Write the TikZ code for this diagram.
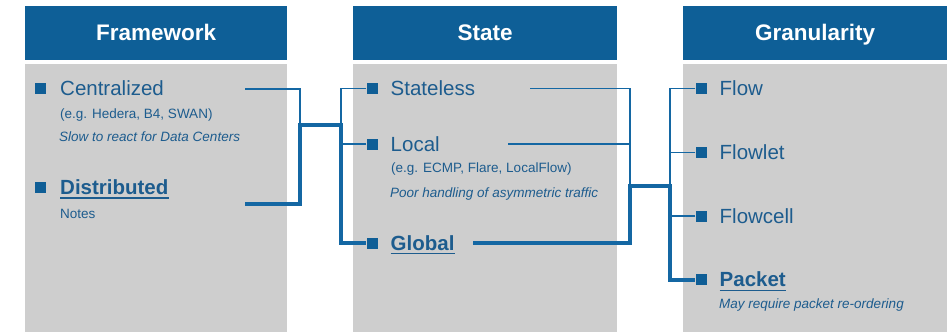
\documentclass[tikz,border=0pt]{standalone}
\usepackage{fontspec}
\setmainfont{Liberation Sans}
\definecolor{hdrblue}{HTML}{0E5F97}
\definecolor{panelgrey}{HTML}{CECECE}
\definecolor{txtblue}{HTML}{1D5C8E}
\definecolor{linkblue}{HTML}{1467A3}
\definecolor{dotblue}{HTML}{0F5E96}
\tikzset{
  hdr/.style={fill=hdrblue, text=white, font=\bfseries\fontsize{22.5}{27}\selectfont,
    minimum width=262pt, minimum height=53.5pt, inner sep=0pt, anchor=north west,
    text height=16pt, text depth=0pt},
  bul/.style={rectangle, fill=dotblue, minimum size=11pt, inner sep=0pt},
  item/.style={anchor=base west, inner sep=0pt, text=txtblue, font=\fontsize{20.5}{24}\selectfont},
  itembold/.style={item, font=\bfseries\fontsize{20.5}{24}\selectfont},
  sub/.style={anchor=base west, inner sep=0pt, text=txtblue, font=\fontsize{13.5}{16}\selectfont},
  note/.style={sub, font=\itshape\fontsize{13.5}{16}\selectfont},
  uline/.style={draw=txtblue, line width=1.2pt},
  thin/.style={draw=linkblue, line width=1.3pt},
  thick/.style={draw=linkblue, line width=4pt, line join=miter},
}
\begin{document}
\begin{tikzpicture}[x=1pt,y=-1pt]
\useasboundingbox (0,0) rectangle (952,332);

% column panels
\fill[panelgrey] (25,63.5) rectangle (287,332);
\fill[panelgrey] (353,63.5) rectangle (617,332);
\fill[panelgrey] (683,63.5) rectangle (947,332);

% column headers
\node[hdr] (hfw) at (25,6) {Framework};
\node[hdr, minimum width=264pt] (hst) at (353,6) {State};
\node[hdr, minimum width=264pt] (hgr) at (683,6) {Granularity};

% Framework column
\node[bul] (bcen) at (40,88.5) {};
\node[item] (cen) at (60,95.7) {Centralized};
\node[sub] (cenex) at (60,118) {(e.g. Hedera, B4, SWAN)};
\node[note] (cennote) at (59,141.3) {Slow to react for Data Centers};
\node[bul] (bdis) at (40,187.3) {};
\node[itembold] (dis) at (60,194.5) {Distributed};
\draw[uline] ([yshift=-3.5pt]dis.base west) -- ([yshift=-3.5pt]dis.base east);
\node[sub] (disnote) at (60,218) {Notes};

% State column
\node[bul] (bstl) at (372,88.5) {};
\node[item] (stl) at (390.5,95.7) {Stateless};
\node[bul] (bloc) at (372,144) {};
\node[item] (loc) at (390.5,151.3) {Local};
\node[sub] (locex) at (391,172.5) {(e.g. ECMP, Flare, LocalFlow)};
\node[note] (locnote) at (390,197) {Poor handling of asymmetric traffic};
\node[bul] (bglb) at (372,243) {};
\node[itembold] (glb) at (390.5,250.3) {Global};
\draw[uline] ([yshift=-3.5pt]glb.base west) -- ([yshift=-3.5pt]glb.base east);

% Granularity column
\node[bul] (bflw) at (701,88.5) {};
\node[item] (flw) at (719.5,95.7) {Flow};
\node[bul] (bflt) at (701,152.5) {};
\node[item] (flt) at (719.5,159.8) {Flowlet};
\node[bul] (bflc) at (701,216) {};
\node[item] (flc) at (719.5,223.3) {Flowcell};
\node[bul] (bpkt) at (701,279.5) {};
\node[itembold] (pkt) at (719.5,286.8) {Packet};
\draw[uline] ([yshift=-3.5pt]pkt.base west) -- ([yshift=-3.5pt]pkt.base east);
\node[note] (pktnote) at (719,308) {May require packet re-ordering};

% connector ends and junctions
\coordinate (cenout) at (245,89);
\coordinate (disout) at (245,204);
\coordinate (ja) at (300,125);
\coordinate (jb) at (341,125);
\coordinate (stlout) at (530,88.5);
\coordinate (locout) at (508,144);
\coordinate (glbout) at (473,243);
\coordinate (jc) at (630,186);
\coordinate (jd) at (670,186);

% Framework -> State
\draw[thin] (cenout) -| (ja);
\draw[thin] (bstl.west) -| (jb);
\draw[thin] (bloc.west) -- (bloc.west -| jb);
\draw[thick] (disout) -| (ja) -- (jb) |- (bglb.west);

% State -> Granularity
\draw[thin] (stlout) -| (jc);
\draw[thin] (locout) -- (locout -| jc);
\draw[thin] (bflw.west) -| (jd);
\draw[thin] (bflt.west) -- (bflt.west -| jd);
\draw[thin] (bflc.west) -- (bflc.west -| jd);
\draw[thick] (glbout) -| (jc) -- (jd) |- (bpkt.west);
\end{tikzpicture}
\end{document}
